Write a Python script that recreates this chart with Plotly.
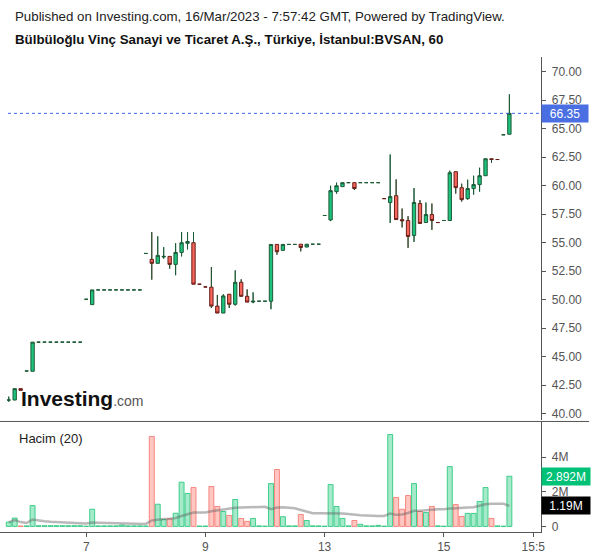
import plotly.graph_objects as go
import pandas as pd

# ---------------- data ----------------
bar_index = list(range(85))
open_ = [41.2, 41.2, 42.2, 43.75, 43.72,
         46.28, 46.28, 46.28, 46.28, 46.28, 46.28, 46.28, 46.28,
         50.04, 49.57,
         50.86, 50.86, 50.86, 50.86, 50.86, 50.86, 50.86, 50.86,
         54.06, 53.54, 53.19, 53.75, 53.8, 53.1, 54.15, 54.95, 55.0,
         51.36, 51.12, 51.1, 49.44, 48.83, 50.48, 49.6, 51.53, 50.3, 49.8,
         49.87, 49.87, 49.87, 54.85, 54.33, 54.85, 54.85, 54.87, 54.62, 54.87, 54.87,
         57.39, 57.0, 59.48, 59.92, 60.27, 60.27, 60.27, 60.27, 60.27, 60.27,
         58.87, 58.53, 59.13, 57.03, 56.95, 55.64, 58.44, 56.77, 57.47, 56.77, 56.95,
         56.95, 61.23, 59.83, 58.87, 59.75, 60.1, 60.88, 62.37, 62.3, 64.47, 64.52]
high = [41.5, 42.2, 42.2, 43.75, 46.28,
        46.28, 46.28, 46.28, 46.28, 46.28, 46.28, 46.28, 46.28,
        50.04, 50.86,
        50.86, 50.86, 50.86, 50.86, 50.86, 50.86, 50.86, 50.86,
        54.06, 55.93, 55.56, 54.61, 53.8, 54.96, 55.93, 55.93, 55.93,
        51.36, 51.12, 52.87, 50.42, 50.48, 50.48, 52.58, 51.79, 50.91, 50.65,
        49.87, 49.87, 54.85, 54.85, 54.85, 54.85, 54.85, 54.87, 54.87, 54.87, 54.87,
        57.39, 60.0, 60.27, 60.27, 60.27, 60.27, 60.27, 60.27, 60.27, 60.27,
        58.87, 62.74, 60.56, 58.0, 57.33, 59.79, 58.74, 58.53, 58.44, 56.77, 56.95,
        61.32, 61.23, 60.18, 60.53, 60.88, 61.58, 62.37, 62.37, 62.3, 64.47, 68.02]
low = [41.05, 41.2, 42.05, 43.75, 43.72,
       46.28, 46.28, 46.28, 46.28, 46.28, 46.28, 46.28, 46.28,
       50.04, 49.57,
       50.86, 50.86, 50.86, 50.86, 50.86, 50.86, 50.86, 50.86,
       54.06, 51.76, 53.19, 53.6, 52.72, 52.15, 53.8, 54.41, 51.36,
       51.36, 51.12, 49.27, 48.83, 48.83, 49.27, 49.49, 50.24, 49.79, 49.7,
       49.87, 49.87, 49.17, 53.95, 54.33, 54.85, 54.85, 54.24, 54.62, 54.87, 54.87,
       57.39, 56.9, 59.31, 59.92, 60.27, 59.63, 60.27, 60.27, 60.27, 60.27,
       58.87, 56.74, 57.03, 56.34, 54.55, 55.07, 56.69, 56.77, 56.13, 56.77, 56.95,
       56.95, 59.31, 58.61, 58.78, 59.22, 59.48, 60.88, 62.02, 62.3, 64.47, 64.52]
close = [41.2, 42.2, 42.05, 43.75, 46.28,
         46.28, 46.28, 46.28, 46.28, 46.28, 46.28, 46.28, 46.28,
         50.04, 50.86,
         50.86, 50.86, 50.86, 50.86, 50.86, 50.86, 50.86, 50.86,
         54.06, 53.19, 53.89, 53.8, 53.1, 54.15, 55.0, 55.1, 51.36,
         51.36, 51.12, 49.44, 48.83, 50.33, 49.6, 51.53, 50.3, 49.79, 49.87,
         49.87, 49.87, 54.85, 54.21, 54.85, 54.85, 54.85, 54.58, 54.87, 54.87, 54.87,
         57.39, 59.57, 60.0, 60.27, 60.27, 59.75, 60.27, 60.27, 60.27, 60.27,
         58.87, 59.05, 57.03, 56.92, 55.55, 58.53, 56.69, 57.47, 56.95, 56.77, 56.95,
         61.14, 59.83, 58.78, 59.75, 60.1, 60.88, 62.37, 62.3, 62.3, 64.47, 66.35]
volume_m = [0.25, 0.48, 0.02, 0.03, 1.2,
            0.04, 0.04, 0.04, 0.04, 0.04, 0.04, 0.04, 0.04,
            0.01, 0.99,
            0.03, 0.03, 0.03, 0.03, 0.08, 0.03, 0.03, 0.03,
            0.02, 5.19, 1.28, 0.40, 0.44, 0.76, 2.55, 1.90, 2.24,
            0.02, 0.02, 2.30, 1.15, 0.86, 0.63, 1.55, 0.46, 0.29, 0.46,
            0.03, 0.01, 2.47, 3.28, 0.56, 0.03, 0.03, 0.69, 0.34, 0.03, 0.03,
            0.01, 2.41, 1.15, 0.46, 0.03, 0.34, 0.12, 0.03, 0.03, 0.06,
            0.01, 5.30, 1.67, 0.99, 1.78, 2.47, 0.86, 0.80, 1.15, 0.03, 0.01,
            3.45, 1.26, 0.57, 0.75, 0.75, 1.44, 2.24, 0.46, 0.03, 0.01, 2.892]

x_tick_pos = [13, 33, 53, 73, 88]
x_tick_text = ["7", "9", "13", "15", "15:5"]
price_ticks = [40, 42.5, 45, 47.5, 50, 52.5, 55, 57.5, 60, 62.5, 65, 67.5, 70]
vol_ticks = [0, 2, 4]
vol_tick_text = ["0", "2M", "4M"]
ma_label = "1.19M"

title_line1 = "Published on Investing.com, 16/Mar/2023 - 7:57:42 GMT, Powered by TradingView."
title_line2 = "Bülbüloğlu Vinç Sanayi ve Ticaret A.Ş., Türkiye, İstanbul:BVSAN, 60"

# ---------------- layout helpers ----------------
W, H = 600, 558
def py(p):
    return 1 - p / H
def px(p):
    return p / W

FONT = "Arial, Liberation Sans, sans-serif"
AX = "#555555"
UP_FILL, UP_LINE = "#1cc27e", "#1c5a36"
DN_FILL, DN_LINE = "#f6665b", "#6b1c16"

ma20 = pd.Series(volume_m).rolling(20, min_periods=1).mean().tolist()
is_up = [c >= o for o, c in zip(open_, close)]
vol_fill = ["rgba(40,205,130,0.42)" if u else "rgba(255,120,110,0.42)" for u in is_up]
vol_line = ["rgba(40,200,125,0.85)" if u else "rgba(245,120,110,0.85)" for u in is_up]

# wick overlay (dark green), built from the OHLC data
wx, wy = [], []
for i, o, h, l, c in zip(bar_index, open_, high, low, close):
    top, bot = max(o, c), min(o, c)
    if h > top:
        wx += [i, i, None]; wy += [h, top, None]
    if l < bot:
        wx += [i, i, None]; wy += [bot, l, None]

fig = go.Figure()
fig.add_trace(go.Candlestick(
    x=bar_index, open=open_, high=high, low=low, close=close,
    increasing=dict(line=dict(color=UP_LINE, width=1), fillcolor=UP_FILL),
    decreasing=dict(line=dict(color=DN_LINE, width=1), fillcolor=DN_FILL),
    whiskerwidth=0, xaxis="x", yaxis="y", showlegend=False, hoverinfo="skip"))
fig.add_trace(go.Scatter(x=wx, y=wy, mode="lines", line=dict(color=UP_LINE, width=1),
                         xaxis="x", yaxis="y", showlegend=False, hoverinfo="skip"))
fig.add_trace(go.Bar(x=bar_index, y=volume_m, marker=dict(color=vol_fill, line=dict(color=vol_line, width=1)),
                     xaxis="x", yaxis="y2", showlegend=False, hoverinfo="skip"))
fig.add_trace(go.Scatter(x=bar_index, y=ma20, mode="lines",
                         line=dict(color="rgba(100,100,100,0.45)", width=2.5),
                         xaxis="x", yaxis="y2", showlegend=False, hoverinfo="skip"))

# axis geometry (pixels)
x_left, x_right = 0, 545
bar0_px, bar_step = 8.8, 6.0
price_top, price_bot = 57, 422
vol_top, vol_bot = 424, 534
p_at = lambda y: 70 - (y - 72) / 11.44
v_at = lambda y: (528.3 - y) / 17.4

fig.update_layout(
    width=W, height=H, margin=dict(l=0, r=0, t=0, b=0),
    paper_bgcolor="white", plot_bgcolor="white",
    font=dict(family=FONT, color=AX, size=12),
    bargap=0.17, boxgap=0.2,
    xaxis=dict(domain=[px(x_left), px(x_right)],
               range=[(x_left - bar0_px) / bar_step, (x_right - bar0_px) / bar_step],
               anchor="y2", rangeslider=dict(visible=False), showgrid=False, zeroline=False,
               tickvals=x_tick_pos, ticktext=x_tick_text, ticks="outside", ticklen=4,
               tickcolor=AX, showline=True, linecolor=AX, linewidth=1,
               tickfont=dict(size=12, color=AX)),
    yaxis=dict(domain=[py(price_bot), py(price_top)], range=[p_at(price_bot), p_at(price_top)],
               anchor="x", side="right", showgrid=False, zeroline=False,
               tickvals=price_ticks, ticktext=[f"{v:.2f}" for v in price_ticks],
               ticks="outside", ticklen=4, tickcolor=AX, showline=True, linecolor=AX,
               ticklabelstandoff=3, tickfont=dict(size=12, color=AX)),
    yaxis2=dict(domain=[py(vol_bot), py(vol_top)], range=[v_at(vol_bot), v_at(vol_top)],
                anchor="x", side="right", showgrid=False, zeroline=False,
                tickvals=vol_ticks, ticktext=vol_tick_text,
                ticks="outside", ticklen=4, tickcolor=AX, showline=True, linecolor=AX,
                ticklabelstandoff=3, tickfont=dict(size=12, color=AX)),
    shapes=[
        dict(type="line", xref="paper", yref="paper", x0=0, x1=px(593), y0=py(423), y1=py(423),
             line=dict(color=AX, width=1)),
        dict(type="line", xref="paper", yref="y", x0=px(8), x1=px(x_right), y0=close[-1], y1=close[-1],
             line=dict(color="#3e66e6", width=1, dash="dot")),
    ],
    annotations=[
        dict(xref="paper", yref="paper", x=px(13), y=py(17), xanchor="left", yanchor="middle",
             text=title_line1, showarrow=False, font=dict(size=13.3, color="#222", family=FONT)),
        dict(xref="paper", yref="paper", x=px(13), y=py(40), xanchor="left", yanchor="middle",
             text="<b>" + title_line2 + "</b>", showarrow=False, font=dict(size=13.3, color="#111", family=FONT)),
        dict(xref="paper", yref="paper", x=px(17), y=py(440), xanchor="left", yanchor="middle",
             text="Hacim (20)", showarrow=False, font=dict(size=13, color="#222", family=FONT)),
        dict(xref="paper", yref="paper", x=px(19), y=py(400), xanchor="left", yanchor="middle",
             text="<b>Investing</b><span style='font-size:14px;color:#555'>.com</span>",
             showarrow=False, font=dict(size=21, color="#111", family=FONT)),
        dict(xref="paper", yref="y", x=px(545), y=close[-1], xanchor="left", yanchor="middle",
             text=f"{close[-1]:.2f}", showarrow=False, bgcolor="#4a6fe3", width=42, height=13,
             borderpad=2, font=dict(size=12, color="white", family=FONT)),
        dict(xref="paper", yref="y2", x=px(545), y=volume_m[-1], xanchor="left", yanchor="middle",
             text=f"{volume_m[-1]:.3f}M", showarrow=False, bgcolor="#00c176", width=44, height=13,
             borderpad=2, font=dict(size=12, color="white", family=FONT)),
        dict(xref="paper", yref="y2", x=px(545), y=ma20[-1], xanchor="left", yanchor="middle",
             text=ma_label, showarrow=False, bgcolor="#000000", width=44, height=13,
             borderpad=2, font=dict(size=12, color="white", family=FONT)),
    ],
)

fig.write_html("out.html", config={"displayModeBar": False},
               post_script="document.body.style.margin='0';document.body.style.padding='0';")
